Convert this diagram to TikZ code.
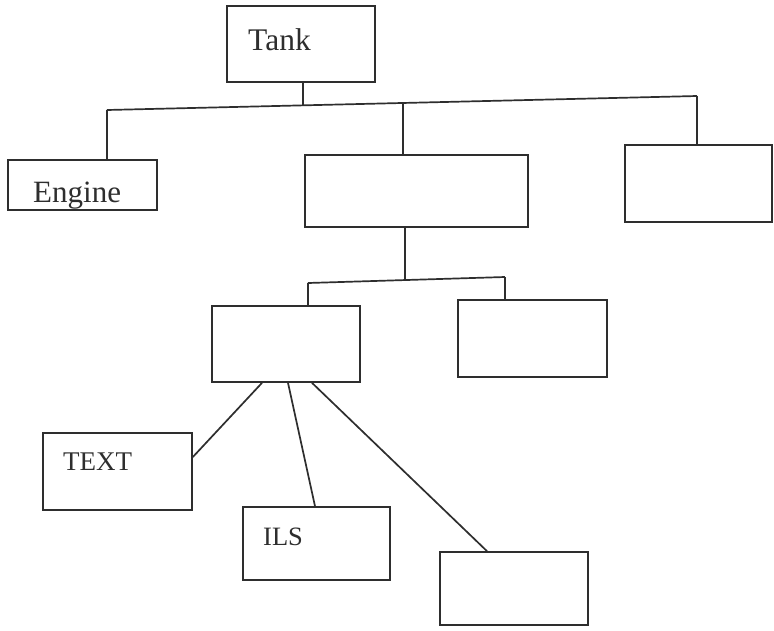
\documentclass[tikz,border=0pt]{standalone}
\usepackage{fontspec}
\setmainfont{Liberation Serif}
\definecolor{ink}{HTML}{2E2E2E}
\begin{document}
\begin{tikzpicture}[x=1pt,y=-1pt,
  box/.style={draw=ink,line width=1.7pt,inner sep=0pt,minimum width=#1},
  box/.default=148pt,
  lbl/.style={anchor=base west,inner sep=0pt,text=ink},
  wire/.style={draw=ink,line width=1.7pt}]
\useasboundingbox[fill=white] (0,0) rectangle (774,630);

% boxes
\node[box=148pt,minimum height=76pt] (tank)   at (301,44)    {};
\node[box=149pt,minimum height=50pt] (engine) at (82.5,185)  {};
\node[box=223pt,minimum height=72pt] (mid)    at (416.5,191) {};
\node[box=147pt,minimum height=77pt] (right)  at (698.5,183.5) {};
\node[box=148pt,minimum height=76pt] (subl)   at (286,344)   {};
\node[box=149pt,minimum height=77pt] (subr)   at (532.5,338.5) {};
\node[box=149pt,minimum height=77pt] (textb)  at (117.5,471.5) {};
\node[box=147pt,minimum height=73pt] (ils)    at (316.5,543.5) {};
\node[box=148pt,minimum height=73pt] (leaf)   at (514,588.5) {};

% labels
\node[lbl,font=\fontsize{31.5}{36}\selectfont] (tanktxt)   at (248,50)  {Tank};
\node[lbl,font=\fontsize{31}{36}\selectfont]   (enginetxt) at (33,202)  {Engine};
\node[lbl,font=\fontsize{27}{31}\selectfont]   (texttxt)   at (63,470)  {TEXT};
\node[lbl,font=\fontsize{26.5}{30}\selectfont] (ilstxt)    at (263,545) {ILS};

% upper bus
\coordinate (b1l) at (107,110);
\coordinate (b1r) at (697,96);
\coordinate (b1t) at (303,105.3);
\coordinate (b1m) at (403,102.9);
\draw[wire] (b1l) -- (b1r);
\draw[wire] ([xshift=2pt]tank.south) -- (b1t);
\draw[wire] (b1l) -- (b1l |- engine.north);
\draw[wire] (b1m) -- (b1m |- mid.north);
\draw[wire] (b1r) -- (b1r |- right.north);

% lower bus
\coordinate (b2l) at (308,283);
\coordinate (b2r) at (505,277);
\coordinate (b2m) at (405,280);
\draw[wire] (b2l) -- (b2r);
\draw[wire] (b2m |- mid.south) -- (b2m);
\draw[wire] (b2l) -- (b2l |- subl.north);
\draw[wire] (b2r) -- (b2r |- subr.north);

% spokes to the leaves
\draw[wire] ([xshift=-24pt]subl.south) -- ([yshift=14.5pt]textb.east);
\draw[wire] ([xshift=2pt]subl.south) -- ([xshift=-1.5pt]ils.north);
\draw[wire] ([xshift=26pt]subl.south) -- ([xshift=-27pt]leaf.north);
\end{tikzpicture}
\end{document}
